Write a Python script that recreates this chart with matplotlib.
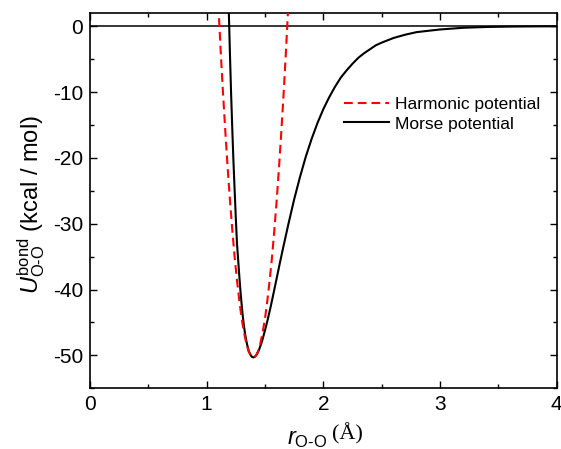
import matplotlib
matplotlib.use("Agg")
import matplotlib.pyplot as plt
from matplotlib.ticker import MultipleLocator

# Morse potential
morse_r = [1.17, 1.19, 1.20, 1.21, 1.22, 1.23, 1.24, 1.25, 1.26, 1.27, 1.28, 1.29, 1.30, 1.31,
           1.32, 1.33, 1.34, 1.35, 1.36, 1.37, 1.38, 1.39, 1.40, 1.41, 1.42, 1.43, 1.44, 1.45,
           1.46, 1.47, 1.48, 1.50, 1.52, 1.55, 1.58, 1.60, 1.62, 1.65, 1.67, 1.70, 1.75, 1.80,
           1.85, 1.90, 1.95, 2.00, 2.05, 2.10, 2.15, 2.20, 2.25, 2.30, 2.35, 2.40, 2.45, 2.50,
           2.60, 2.70, 2.80, 3.00, 3.20, 3.40, 3.60, 3.80, 4.00]
morse_u = [16.0, 2.1, -4.5, -10.5, -15.8, -20.7, -25.0, -29.2, -33.0, -35.5, -38.0, -40.3, -42.3, -44.1,
           -45.6, -46.8, -47.8, -48.6, -49.3, -49.7, -50.06, -50.24, -50.3, -50.25, -50.09, -49.84, -49.5, -49.1,
           -48.6, -48.1, -47.5, -46.2, -44.8, -42.5, -40.0, -38.3, -36.6, -34.1, -32.5, -30.1, -26.3, -22.9,
           -19.8, -17.1, -14.7, -12.6, -10.8, -9.2, -7.8, -6.7, -5.7, -4.8, -4.1, -3.5, -2.9, -2.5,
           -1.8, -1.3, -0.9, -0.5, -0.24, -0.12, -0.06, -0.03, -0.02]

# Harmonic potential
harm_r = [1.10, 1.12, 1.14, 1.16, 1.18, 1.20, 1.22, 1.24, 1.26, 1.28, 1.30, 1.32, 1.34, 1.36,
          1.38, 1.40, 1.42, 1.44, 1.46, 1.48, 1.50, 1.52, 1.54, 1.56, 1.58, 1.60, 1.62,
          1.64, 1.66, 1.68, 1.70]
harm_u = [3.3, -3.7, -10.1, -16.0, -21.5, -26.5, -31.0, -35.1, -38.6, -41.7, -44.4, -46.5, -48.2, -49.4,
          -50.1, -50.3, -50.1, -49.4, -48.2, -46.5, -44.4, -41.7, -38.6, -35.1, -31.0, -26.5, -21.5,
          -16.0, -10.1, -3.7, 3.3]

x_ticks = [0, 1, 2, 3, 4]
y_ticks = [0, -10, -20, -30, -40, -50]

plt.rcParams['font.family'] = ['Liberation Sans', 'DejaVu Sans']
plt.rcParams['axes.unicode_minus'] = False
plt.rcParams['mathtext.fontset'] = 'custom'
plt.rcParams['mathtext.rm'] = 'Liberation Sans'
plt.rcParams['mathtext.it'] = 'Liberation Sans:italic'

fig = plt.figure(figsize=(5.61, 4.49), dpi=100)
ax = fig.add_axes([0.1604, 0.1352, 0.8319, 0.8358])

ax.axhline(0, color='black', lw=1.1, zorder=1)
ax.plot(harm_r, harm_u, color='#ff0000', lw=1.5, ls=(0, (4.2, 2.4)), label='Harmonic potential', zorder=3)
ax.plot(morse_r, morse_u, color='black', lw=1.5, label='Morse potential', zorder=2)

ax.set_xlim(0, 4)
ax.set_ylim(-55, 2)
ax.set_xticks(x_ticks)
ax.set_yticks(y_ticks)
ax.xaxis.set_minor_locator(MultipleLocator(0.5))
ax.yaxis.set_minor_locator(MultipleLocator(5))
ax.tick_params(which='both', direction='in', top=True, right=True, labelsize=15, width=1.0)
ax.tick_params(which='major', length=5, pad=5)
ax.tick_params(which='minor', length=3)
for s in ax.spines.values():
    s.set_linewidth(1.2)

ax.set_ylabel(r'$U_{\mathrm{O\text{-}O}}^{\mathrm{bond}}$ (kcal / mol)', fontsize=17)
ax.yaxis.set_label_coords(-0.092, 0.49)

xl_x = 0.1604 + 0.8319 * 2.0 / 4 + 0.012
fig.text(xl_x - 0.005, -0.003, r'$r_{\mathrm{O\text{-}O}}$', fontsize=17, ha='right', va='bottom')
fig.text(xl_x + 0.004, 0.010, '(Å)', fontsize=16, ha='left', va='bottom', family='Liberation Serif')

ax.legend(loc='upper left', bbox_to_anchor=(0.53, 0.795), frameon=False, fontsize=12.5,
          handlelength=2.6, handletextpad=0.3, labelspacing=0.25, borderaxespad=0)

fig.savefig('out.png', dpi=100)
